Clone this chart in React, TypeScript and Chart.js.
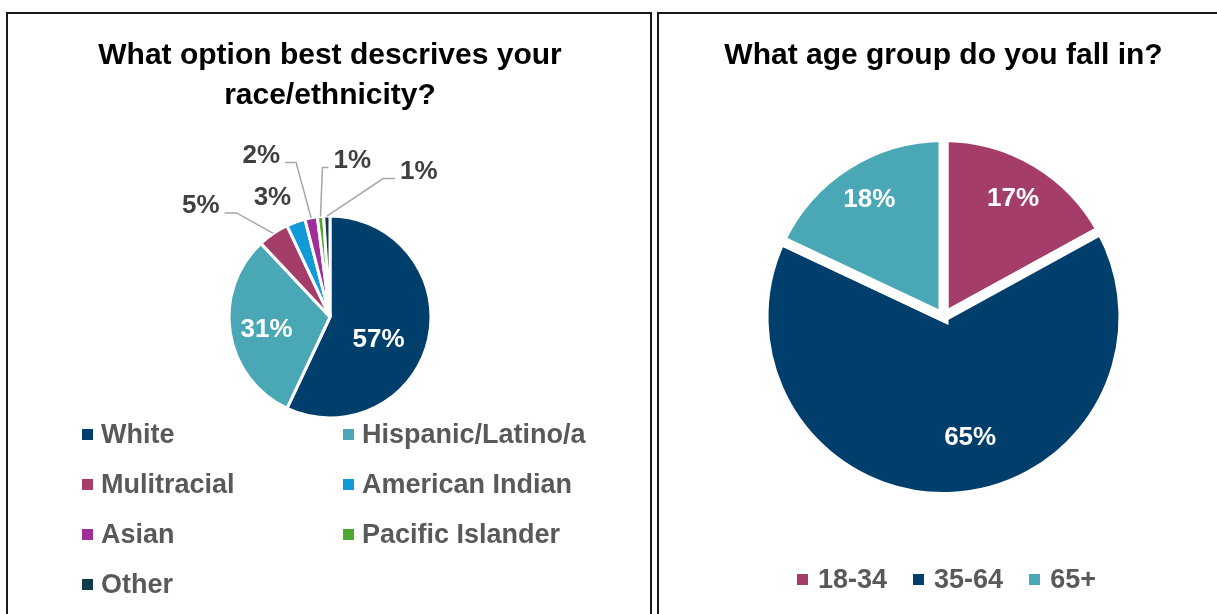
import React, { useEffect, useRef } from 'react';
import { Chart, registerables } from 'chart.js';

Chart.register(...registerables);

// ---------- data ----------
const raceTitle = ['What option best descrives your', 'race/ethnicity?'];
const raceLabels = ['White', 'Hispanic/Latino/a', 'Mulitracial', 'American Indian', 'Asian', 'Pacific Islander', 'Other'];
const raceValues = [57, 31, 5, 3, 2, 1, 1];
const raceColors = ['#003f6c', '#4aa8b6', '#a53d6a', '#129ad6', '#a12d98', '#4ea72e', '#0e3a4e'];

const ageTitle = 'What age group do you fall in?';
const ageLabels = ['18-34', '35-64', '65+'];
const ageValues = [17, 65, 18];
const ageColors = ['#a53d6a', '#003f6c', '#4aa8b6'];

// ---------- label placement (style, not data) ----------
const raceLabelLayout: any[] = [
  { kind: 'in', r: 0.53, da: 12.5 },
  { kind: 'in', r: 0.64, da: -2 },
  { kind: 'out', dx: -1.28, dy: -1.1, leader: { side: 'right', elbow: 12 } },
  { kind: 'out', dx: -0.57, dy: -1.18 },
  { kind: 'out', dx: -0.68, dy: -1.6, leader: { side: 'right', elbow: 11 } },
  { kind: 'out', dx: 0.22, dy: -1.55, leader: { side: 'left', elbow: 6 } },
  { kind: 'out', dx: 0.88, dy: -1.44, leader: { side: 'left', elbow: 12 } },
];
const ageLabelLayout: any[] = [
  { kind: 'in', r: 0.76, da: 0 },
  { kind: 'in', r: 0.69, da: -10.6 },
  { kind: 'in', r: 0.77, da: 0 },
];

const FONT = '"Liberation Sans", Arial, sans-serif';

function makeLabelPlugin(layout: any[]) {
  return {
    id: 'pieLabels',
    afterDatasetsDraw(chart: any) {
      const ctx = chart.ctx;
      const meta = chart.getDatasetMeta(0);
      const values = chart.data.datasets[0].data;
      ctx.save();
      ctx.font = `bold 26px ${FONT}`;
      ctx.textAlign = 'center';
      ctx.textBaseline = 'middle';
      meta.data.forEach((arc: any, i: number) => {
        const spec = layout[i];
        if (!spec) return;
        const { x, y, startAngle, endAngle, outerRadius } = arc.getProps(
          ['x', 'y', 'startAngle', 'endAngle', 'outerRadius'],
          true
        );
        const mid = (startAngle + endAngle) / 2;
        const text = `${values[i]}%`;
        let lx: number;
        let ly: number;
        if (spec.kind === 'in') {
          const a = mid + (spec.da * Math.PI) / 180;
          lx = x + Math.cos(a) * outerRadius * spec.r;
          ly = y + Math.sin(a) * outerRadius * spec.r;
          ctx.fillStyle = '#ffffff';
        } else {
          lx = x + spec.dx * outerRadius;
          ly = y + spec.dy * outerRadius;
          if (spec.leader) {
            const w = ctx.measureText(text).width;
            const dir = spec.leader.side === 'right' ? 1 : -1;
            const ex = lx + dir * (w / 2 + 5);
            const ey = ly + 7;
            const bx = ex + dir * spec.leader.elbow;
            const sx = x + Math.cos(mid) * outerRadius;
            const sy = y + Math.sin(mid) * outerRadius;
            ctx.beginPath();
            ctx.moveTo(sx, sy);
            ctx.lineTo(bx, ey);
            ctx.lineTo(ex, ey);
            ctx.strokeStyle = '#a6a6a6';
            ctx.lineWidth = 1.5;
            ctx.stroke();
          }
          ctx.fillStyle = '#404040';
        }
        ctx.fillText(text, lx, ly);
      });
      ctx.restore();
    },
  };
}

function PieChart(props: { config: any; left: number; top: number; width: number; height: number }) {
  const ref = useRef<HTMLCanvasElement>(null);
  useEffect(() => {
    const chart = new Chart(ref.current as HTMLCanvasElement, props.config);
    return () => chart.destroy();
  }, []);
  return (
    <canvas
      ref={ref}
      width={props.width}
      height={props.height}
      style={{ position: 'absolute', left: props.left, top: props.top, width: props.width, height: props.height }}
    />
  );
}

const raceConfig = {
  type: 'pie',
  data: {
    labels: raceLabels,
    datasets: [
      {
        data: raceValues,
        backgroundColor: raceColors,
        borderColor: '#ffffff',
        borderWidth: 3,
        radius: 101,
      },
    ],
  },
  options: {
    responsive: false,
    animation: false,
    layout: { padding: { left: 2, right: 0, top: 0, bottom: 103 } },
    plugins: {
      legend: { display: false },
      tooltip: { enabled: false },
      title: {
        display: true,
        text: raceTitle,
        color: '#000000',
        font: { family: FONT, size: 30, weight: 'bold', lineHeight: 40 / 30 },
        padding: { top: 22, bottom: 7 },
      },
    },
  },
  plugins: [makeLabelPlugin(raceLabelLayout)],
};

const ageConfig = {
  type: 'pie',
  data: {
    labels: ageLabels,
    datasets: [
      {
        data: ageValues,
        backgroundColor: ageColors,
        borderColor: '#ffffff',
        borderWidth: 10,
        borderJoinStyle: 'miter',
        radius: 180,
      },
    ],
  },
  options: {
    responsive: false,
    animation: false,
    layout: { padding: { left: 3, right: 0, top: 0, bottom: 63 } },
    plugins: {
      legend: { display: false },
      tooltip: { enabled: false },
      title: {
        display: true,
        text: ageTitle,
        color: '#000000',
        font: { family: FONT, size: 30, weight: 'bold', lineHeight: 40 / 30 },
        padding: { top: 22, bottom: 7 },
      },
    },
  },
  plugins: [makeLabelPlugin(ageLabelLayout)],
};

const legendText: React.CSSProperties = {
  fontFamily: FONT,
  fontWeight: 'bold',
  fontSize: 27,
  color: '#595959',
  whiteSpace: 'nowrap',
  lineHeight: '50px',
};

function Marker({ color }: { color: string }) {
  return <span style={{ display: 'inline-block', width: 11, height: 11, background: color, flex: 'none' }} />;
}

export default function App() {
  return (
    <div
      style={{
        position: 'fixed',
        left: 0,
        top: 0,
        width: 1217,
        height: 614,
        overflow: 'hidden',
        background: '#ffffff',
      }}
    >
      <div style={{ position: 'absolute', left: 6, top: 12, width: 642, height: 700, border: '2px solid #1a1a1a' }} />
      <div style={{ position: 'absolute', left: 657, top: 12, width: 700, height: 700, border: '2px solid #1a1a1a' }} />

      <PieChart config={raceConfig} left={8} top={14} width={642} height={600} />
      <PieChart config={ageConfig} left={659} top={14} width={566} height={600} />

      <div
        style={{
          position: 'absolute',
          left: 82,
          top: 409,
          display: 'grid',
          gridTemplateColumns: '261px auto',
          gridAutoRows: '50px',
        }}
      >
        {raceLabels.map((l, i) => (
          <div key={l} style={{ display: 'flex', alignItems: 'center', gap: 8 }}>
            <Marker color={raceColors[i]} />
            <span style={legendText}>{l}</span>
          </div>
        ))}
      </div>

      <div
        style={{
          position: 'absolute',
          left: 797,
          top: 554,
          height: 50,
          display: 'flex',
          alignItems: 'center',
          gap: 26,
        }}
      >
        {ageLabels.map((l, i) => (
          <div key={l} style={{ display: 'flex', alignItems: 'center', gap: 10 }}>
            <Marker color={ageColors[i]} />
            <span style={legendText}>{l}</span>
          </div>
        ))}
      </div>
    </div>
  );
}
